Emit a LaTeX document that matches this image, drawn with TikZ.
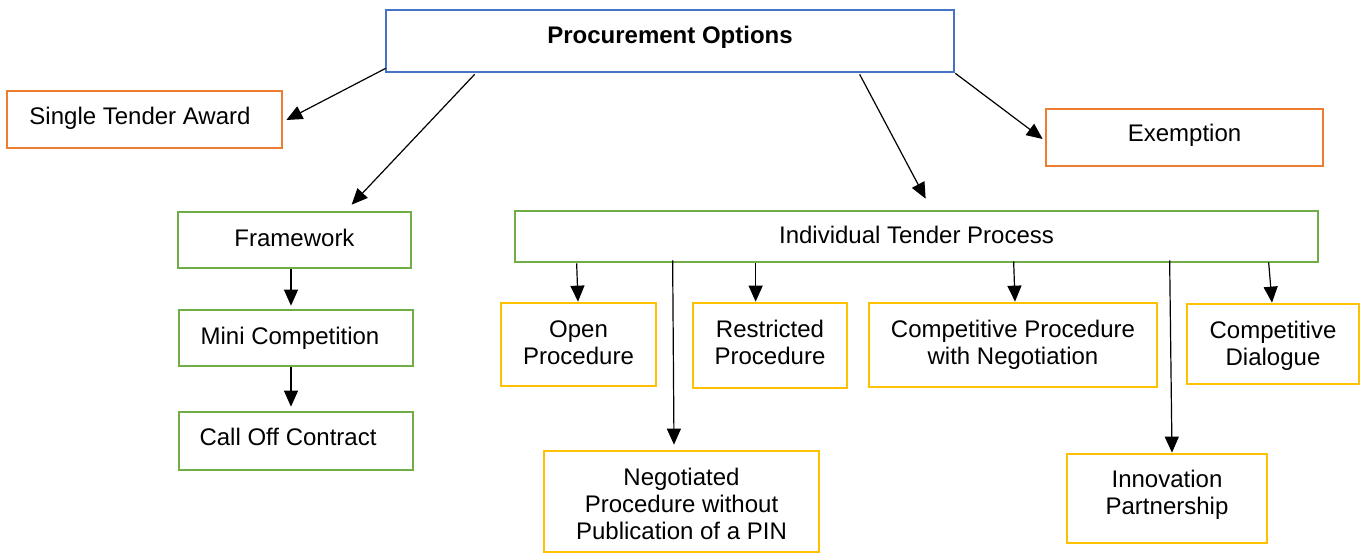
\documentclass[tikz,border=0pt]{standalone}
\usepackage{fontspec}
\setmainfont{Liberation Sans}
\usetikzlibrary{arrows.meta,calc}
\definecolor{cblue}{HTML}{4472C4}
\definecolor{corange}{HTML}{ED7D31}
\definecolor{cgreen}{HTML}{70AD47}
\definecolor{cyellow}{HTML}{FFC000}
\newcommand{\upby}[2]{\raisebox{0pt}[\height][\dimexpr\depth+#1\relax]{#2}}
\newcommand{\downby}[2]{\raisebox{0pt}[\dimexpr\height+#1\relax][\depth]{#2}}
\newcommand{\lines}[1]{\begin{tabular}{@{}c@{}}#1\end{tabular}}
\tikzset{
  box/.style={draw, line width=2.7pt, inner sep=0pt, align=center, fill=white,
    font=\fontsize{24}{27}\selectfont},
  bluebox/.style={box, draw=cblue},
  orangebox/.style={box, draw=corange},
  greenbox/.style={box, draw=cgreen},
  yellowbox/.style={box, draw=cyellow},
  arr/.style={line width=1.2pt, -{Triangle[length=16pt,width=14pt]}},
}
\begin{document}
\begin{tikzpicture}[x=1pt,y=-1pt]
\useasboundingbox (0,0) rectangle (1366,554);
% top
\node[bluebox, minimum width=568, minimum height=62] (po) at (670,41)
  {\upby{7pt}{\bfseries Procurement Options}};
\node[orangebox, minimum width=275, minimum height=57] (sta) at (144.5,119.5)
  {\upby{2pt}{Single Tender Award}\hspace*{9pt}};
\node[orangebox, minimum width=277, minimum height=57] (ex) at (1184.5,137.5)
  {\upby{5pt}{Exemption}};
% framework branch
\node[greenbox, minimum width=233, minimum height=56] (fw) at (294.5,240) {\upby{4pt}{Framework}};
\node[greenbox, minimum width=234, minimum height=56] (mc) at (296,338)
  {Mini Competition\hspace*{12pt}};
\node[greenbox, minimum width=234, minimum height=58] (co) at (296,441)
  {\upby{8pt}{Call Off Contract}\hspace*{16pt}};
% individual tender process
\node[greenbox, minimum width=803, minimum height=51] (itp) at (916.5,236.5)
  {\upby{4pt}{Individual Tender Process}};
\node[yellowbox, minimum width=155, minimum height=83] (op) at (578.5,344.5)
  {\downby{2pt}{\lines{Open\\Procedure}}};
\node[yellowbox, minimum width=154, minimum height=85] (rp) at (770,345.5)
  {\lines{Restricted\\Procedure}};
\node[yellowbox, minimum width=288, minimum height=84] (cpn) at (1013,345)
  {\downby{2pt}{\lines{Competitive Procedure\\with Negotiation}}};
\node[yellowbox, minimum width=172, minimum height=80] (cd) at (1273,344)
  {\downby{6pt}{\lines{Competitive\\Dialogue}}};
\node[yellowbox, minimum width=275, minimum height=101] (np) at (681.5,501.5)
  {\downby{12pt}{\lines{Negotiated\\Procedure without\\Publication of a PIN}}};
\node[yellowbox, minimum width=200, minimum height=89] (ip) at (1167,498.5)
  {\upby{5pt}{\lines{Innovation\\Partnership}}};
% connectors from the top box
\draw[arr] ($(po.south west)+(1,-5)$) -- ($(sta.east)+(3,0.5)$);
\draw[arr] ($(po.south west)+(90,1)$) -- ($(fw.north west)+(175,-6)$);
\draw[arr] ($(po.south west)+(475,1)$) -- ($(itp.north west)+(412,-11)$);
\draw[arr] (po.south east) -- ($(ex.west)+(-2,1.5)$);
% framework chain
\draw[arr] ($(fw.south)+(-3.5,0)$) -- ($(mc.north)+(-5,-3)$);
\draw[arr] ($(mc.south)+(-5,0)$) -- ($(co.north)+(-5,-4)$);
% tender process children
\draw[arr] ($(itp.south west)+(63,0)$) -- ($(op.north)+(-0.5,0)$);
\draw[arr] ($(itp.south west)+(159,-3)$) -- ($(np.north)+(-7.5,-5)$);
\draw[arr] ($(itp.south west)+(242,0)$) -- ($(rp.north west)+(64,0)$);
\draw[arr] ($(itp.south west)+(500,-2)$) -- ($(cpn.north)+(2,0)$);
\draw[arr] ($(itp.south west)+(656,-3)$) -- ($(ip.north)+(5,0)$);
\draw[arr] ($(itp.south west)+(755,-1)$) -- ($(cd.north)+(-1,0)$);
\end{tikzpicture}
\end{document}
